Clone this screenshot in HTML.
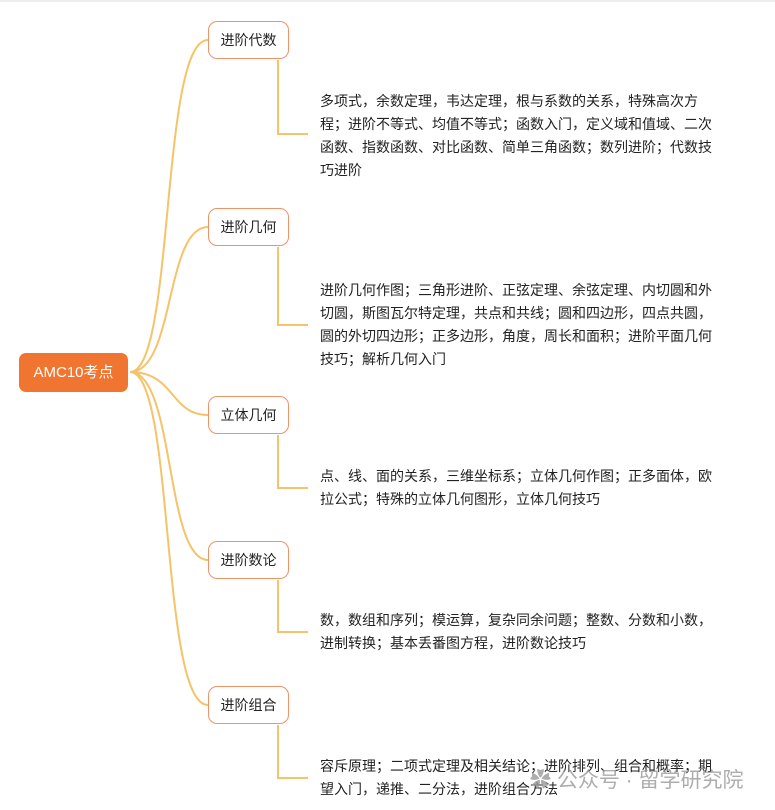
<!DOCTYPE html>
<html><head><meta charset="utf-8"><style>
body{margin:0;width:775px;height:810px;background:#fff;position:relative;overflow:hidden;font-family:"Liberation Sans","Noto Sans CJK SC",sans-serif;}
.top{position:absolute;left:0;top:0;width:775px;height:2px;background:#eee}
.root{position:absolute;left:19px;top:353px;width:109px;height:39px;background:#ef7530;border-radius:7px;color:#fff;font-size:15px;line-height:39px;text-align:center}
.n{position:absolute;left:208px;width:79px;height:36px;border:1.5px solid #ee9366;border-radius:9px;background:#fff;font-size:14px;line-height:36px;text-align:center;color:#222}
.t{position:absolute;left:320px;white-space:nowrap;font-size:14px;line-height:23px;color:#222}
.wm{position:absolute;left:530px;top:764px;font-size:21px;color:#999;opacity:.8}
</style></head><body>
<div class="top"></div>
<svg width="775" height="810" style="position:absolute;left:0;top:0" fill="none" stroke="#f5c36a" stroke-width="2">
<path d="M130 372 C175 372,160 40,208 40"/>
<path d="M130 372 C175 372,165 227,208 227"/>
<path d="M130 372 C175 372,170 415,208 415"/>
<path d="M130 372 C175 372,165 560,208 560"/>
<path d="M130 372 C175 372,160 705,208 705"/>
<path d="M278 60 V134 H308"/>
<path d="M278 247 V325 H308"/>
<path d="M278 435 V488 H308"/>
<path d="M278 580 V632 H308"/>
<path d="M278 725 V778 H308"/>
</svg>
<div class="root">AMC10考点</div>
<div class="n" style="top:21px">进阶代数</div>
<div class="n" style="top:208px">进阶几何</div>
<div class="n" style="top:396px">立体几何</div>
<div class="n" style="top:541px">进阶数论</div>
<div class="n" style="top:686px">进阶组合</div>
<div class="t" style="top:90px">多项式，余数定理，韦达定理，根与系数的关系，特殊高次方<br>程；进阶不等式、均值不等式；函数入门，定义域和值域、二次<br>函数、指数函数、对比函数、简单三角函数；数列进阶；代数技<br>巧进阶</div>
<div class="t" style="top:279px">进阶几何作图；三角形进阶、正弦定理、余弦定理、内切圆和外<br>切圆，斯图瓦尔特定理，共点和共线；圆和四边形，四点共圆，<br>圆的外切四边形；正多边形，角度，周长和面积；进阶平面几何<br>技巧；解析几何入门</div>
<div class="t" style="top:465px">点、线、面的关系，三维坐标系；立体几何作图；正多面体，欧<br>拉公式；特殊的立体几何图形，立体几何技巧</div>
<div class="t" style="top:609px">数，数组和序列；模运算，复杂同余问题；整数、分数和小数，<br>进制转换；基本丢番图方程，进阶数论技巧</div>
<div class="t" style="top:755px">容斥原理；二项式定理及相关结论；进阶排列、组合和概率；期<br>望入门，递推、二分法，进阶组合方法</div>
<div class="wm">✿ 公众号 · 留学研究院</div>
</body></html>
